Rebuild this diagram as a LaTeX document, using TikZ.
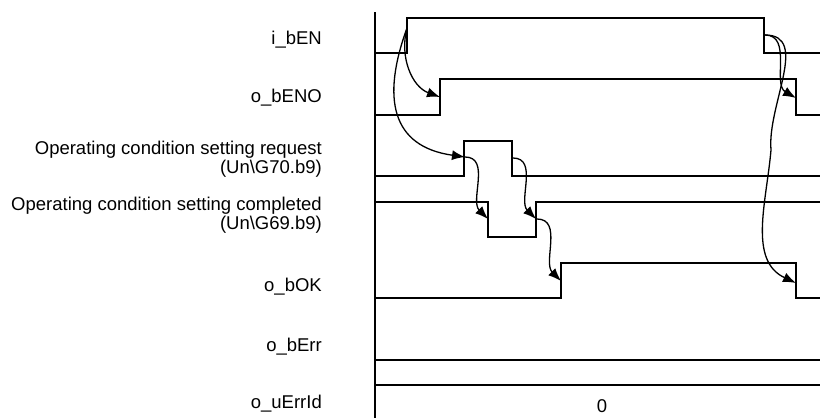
\documentclass[tikz,border=0pt]{standalone}
\usepackage{fontspec}
\setmainfont{Liberation Sans}
\usetikzlibrary{arrows.meta}
\begin{document}
\begin{tikzpicture}[x=1pt, y=1pt, >={Latex[length=13pt,width=10pt]},
    signal/.style={line width=1.5pt},
    cause/.style={->, line width=1.3pt},
    lbl/.style={anchor=base east, inner sep=0pt, align=right,
        font=\fontsize{18.5}{16}\selectfont}]

    \useasboundingbox (0,0) rectangle (820,-418);

    % 1. Nhãn tín hiệu (mốc là đường chân chữ của dòng cuối)
    \node[lbl] (lEN)   at (322,-44)  {i\_bEN};
    \node[lbl] (lENO)  at (322,-102) {o\_bENO};
    \node[lbl] (lReq)  at (322,-173) {Operating condition setting request\\(Un\textbackslash G70.b9)};
    \node[lbl] (lDone) at (322,-229) {Operating condition setting completed\\(Un\textbackslash G69.b9)};
    \node[lbl] (lOK)   at (322,-291) {o\_bOK};
    \node[lbl] (lErr)  at (322,-351) {o\_bErr};
    \node[lbl] (lId)   at (322,-408) {o\_uErrId};

    % 2. Trục thời gian và các dạng sóng
    \draw[signal] (375,-12) -- (375,-418);
    \draw[signal] (375,-53) -- (407,-53) -- (407,-18) -- (764,-18) -- (764,-53) -- (820,-53);
    \draw[signal] (375,-115) -- (440,-115) -- (440,-79) -- (796,-79) -- (796,-115) -- (820,-115);
    \draw[signal] (375,-176) -- (464,-176) -- (464,-141) -- (512,-141) -- (512,-176) -- (820,-176);
    \draw[signal] (375,-202) -- (488,-202) -- (488,-237) -- (536,-237) -- (536,-202) -- (820,-202);
    \draw[signal] (375,-298) -- (561,-298) -- (561,-263) -- (796,-263) -- (796,-298) -- (820,-298);
    \draw[signal] (375,-360) -- (820,-360);
    \draw[signal] (375,-385) -- (820,-385);
    \node[font=\fontsize{18.5}{16}\selectfont, anchor=base] (vId) at (602,-412) {0};

    % 3. Điểm đầu / cuối của các mũi tên
    \coordinate (ENon)   at (407,-28);
    \coordinate (ENoff)  at (765,-35);
    \coordinate (ENOon)  at (440,-97);
    \coordinate (ENOoff) at (796,-98);
    \coordinate (REQon)  at (465,-157);
    \coordinate (REQoff) at (513,-158);
    \coordinate (DONEoff) at (488,-219);
    \coordinate (DONEon)  at (536,-219);
    \coordinate (DONEst)  at (537,-219);
    \coordinate (OKon)   at (561,-281);
    \coordinate (OKoff)  at (796,-283);

    % 4. Các mũi tên quan hệ
    \draw[cause] (ENon) to[out=-105, in=160] (ENOon);
    \draw[cause] (ENon) to[out=-110, in=172, looseness=1.35] (REQon);
    \draw[cause] (REQon) to[out=0, in=135] (DONEoff);
    \draw[cause] (REQoff) to[out=0, in=135] (DONEon);
    \draw[cause] (DONEst) to[out=0, in=135] (OKon);
    \draw[cause] (ENoff) to[out=0, in=150] (ENOoff);
    \draw[cause] (ENoff) to[out=0, in=95] (771,-150) to[out=-95, in=155] (OKoff);

\end{tikzpicture}
\end{document}
